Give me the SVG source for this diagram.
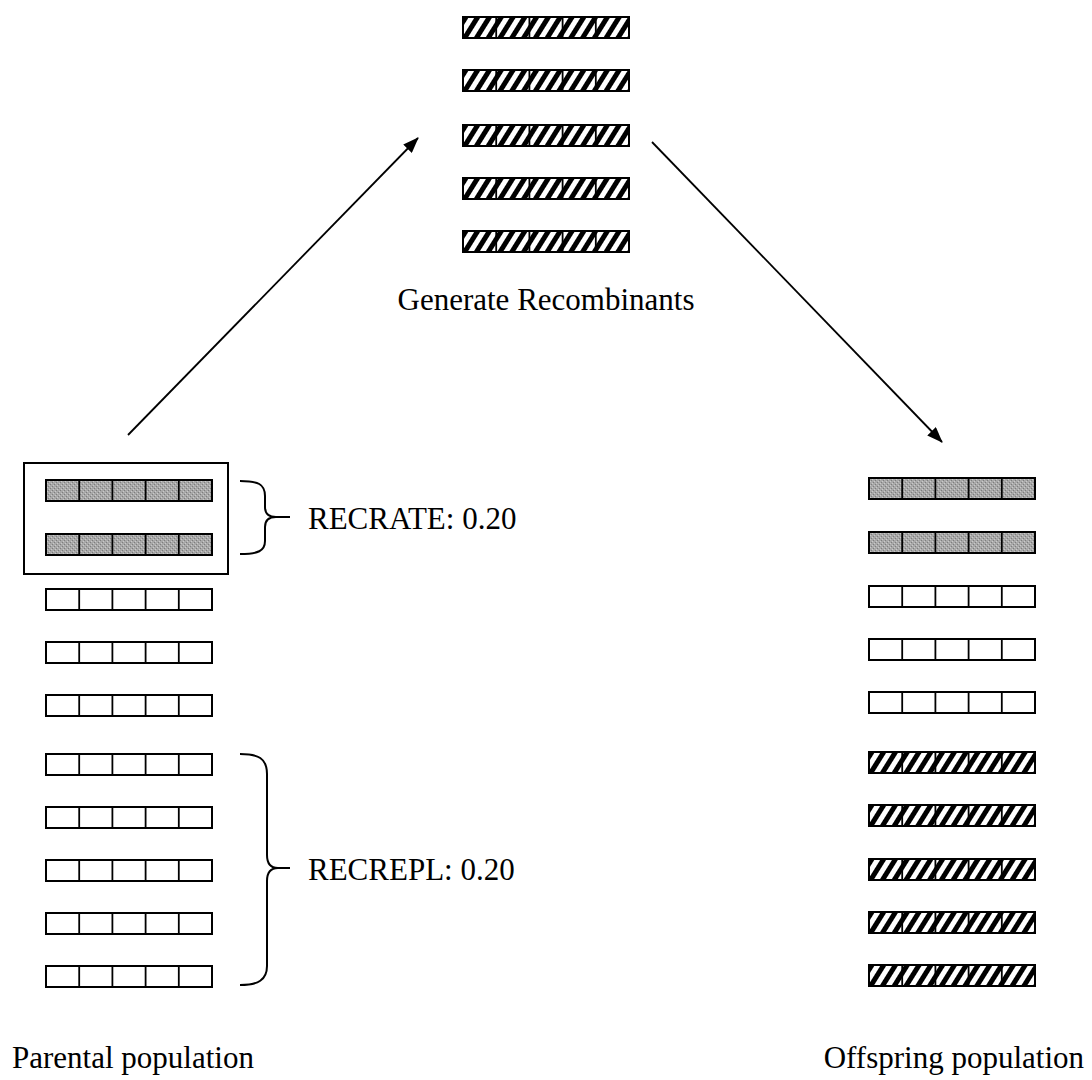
<svg xmlns="http://www.w3.org/2000/svg" xmlns:xlink="http://www.w3.org/1999/xlink" width="1092" height="1080" viewBox="0 0 1092 1080">
<style>
  .lbl { font-family: "Liberation Serif", "Times New Roman", serif; font-size: 31px; fill: #000; }
  .cell { stroke: #000; stroke-width: 2; }
  .div { stroke: #000; stroke-width: 1.8; }
  .brace { fill: none; stroke: #000; stroke-width: 2; }
  .conn { stroke: #000; stroke-width: 1.8; fill: none; }
</style>
<defs>
  <pattern id="hatch" patternUnits="userSpaceOnUse" width="10" height="10" patternTransform="rotate(32)">
    <rect x="0" y="0" width="10" height="10" fill="#fff"/>
    <rect x="0" y="0" width="5" height="10" fill="#000"/>
  </pattern>
  <pattern id="stipple" patternUnits="userSpaceOnUse" width="4" height="4">
    <rect x="0" y="0" width="4" height="4" fill="#a8a8a8"/>
    <rect x="0" y="0" width="1" height="1" fill="#7e7e7e"/>
    <rect x="2" y="2" width="1" height="1" fill="#7e7e7e"/>
    <rect x="1" y="3" width="1" height="1" fill="#cacaca"/>
    <rect x="3" y="1" width="1" height="1" fill="#cacaca"/>
  </pattern>
  <marker id="arrow" viewBox="0 0 16 12" refX="15" refY="6" markerWidth="16" markerHeight="12" markerUnits="userSpaceOnUse" orient="auto">
    <path d="M0,0 L16,6 L0,12 Z" fill="#000"/>
  </marker>
  <g id="dividers">
    <line class="div" x1="33.2" y1="0" x2="33.2" y2="21"/>
    <line class="div" x1="66.4" y1="0" x2="66.4" y2="21"/>
    <line class="div" x1="99.6" y1="0" x2="99.6" y2="21"/>
    <line class="div" x1="132.8" y1="0" x2="132.8" y2="21"/>
  </g>
  <g id="barW">
    <rect class="cell" x="0" y="0" width="166" height="21" fill="#fff"/>
    <use href="#dividers"/>
  </g>
  <g id="barG">
    <rect class="cell" x="0" y="0" width="166" height="21" fill="url(#stipple)"/>
    <use href="#dividers"/>
  </g>
  <g id="barH">
    <rect class="cell" x="0" y="0" width="166" height="21" fill="url(#hatch)"/>
    <use href="#dividers"/>
  </g>
</defs>
<rect x="0" y="0" width="1092" height="1080" fill="#fff"/>

<g id="recombinants">
  <use href="#barH" x="463" y="17"/>
  <use href="#barH" x="463" y="70"/>
  <use href="#barH" x="463" y="125"/>
  <use href="#barH" x="463" y="178"/>
  <use href="#barH" x="463" y="231"/>
  <text class="lbl" x="546" y="310" text-anchor="middle">Generate Recombinants</text>
</g>

<g id="parental">
  <rect x="24" y="463" width="204" height="111" fill="none" stroke="#000" stroke-width="2"/>
  <use href="#barG" x="46" y="480"/>
  <use href="#barG" x="46" y="534"/>
  <use href="#barW" x="46" y="589"/>
  <use href="#barW" x="46" y="642"/>
  <use href="#barW" x="46" y="695"/>
  <use href="#barW" x="46" y="754"/>
  <use href="#barW" x="46" y="807"/>
  <use href="#barW" x="46" y="860"/>
  <use href="#barW" x="46" y="913"/>
  <use href="#barW" x="46" y="966"/>
  <text class="lbl" x="12" y="1068">Parental population</text>
</g>

<g id="recrate">
  <path class="brace" d="M240,481 C258,481 265,484 265,496 L265,507 C265,513 268,517 276,517 L290,517 M276,517 C268,517 265,521 265,527 L265,541 C265,551 258,554 240,554"/>
  <text class="lbl" x="308" y="529">RECRATE: 0.20</text>
</g>

<g id="recrepl">
  <path class="brace" d="M240,754 C258,754 267,758 267,774 L267,855 C267,863 270,868 278,868 L290,868 M278,868 C270,868 267,873 267,881 L267,966 C267,980 258,985 240,985"/>
  <text class="lbl" x="308" y="880">RECREPL: 0.20</text>
</g>

<g id="offspring">
  <use href="#barG" x="869" y="478"/>
  <use href="#barG" x="869" y="532"/>
  <use href="#barW" x="869" y="586"/>
  <use href="#barW" x="869" y="639"/>
  <use href="#barW" x="869" y="692"/>
  <use href="#barH" x="869" y="752"/>
  <use href="#barH" x="869" y="805"/>
  <use href="#barH" x="869" y="859"/>
  <use href="#barH" x="869" y="912"/>
  <use href="#barH" x="869" y="965"/>
  <text class="lbl" x="1084" y="1068" text-anchor="end">Offspring population</text>
</g>

<g id="connectors">
  <line class="conn" x1="128" y1="435" x2="418" y2="138" marker-end="url(#arrow)"/>
  <line class="conn" x1="652" y1="142" x2="942" y2="442" marker-end="url(#arrow)"/>
</g>
</svg>
